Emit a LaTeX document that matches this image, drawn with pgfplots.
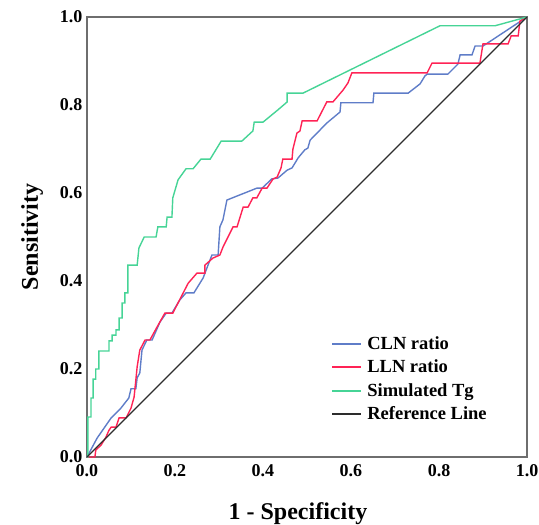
\documentclass[border=0pt]{standalone}
\usepackage{fontspec}
\setmainfont{Liberation Serif}
\usepackage{pgfplots}
\pgfplotsset{compat=1.18}
\definecolor{clnblue}{RGB}{95,125,200}
\definecolor{llnred}{RGB}{255,35,85}
\definecolor{tggreen}{RGB}{70,212,150}
\definecolor{refblack}{RGB}{45,45,45}
\definecolor{framegrey}{RGB}{110,110,110}
\begin{document}
\begin{tikzpicture}
\path[use as bounding box] (-87pt,-68pt) rectangle (452pt,457pt);
\begin{axis}[
  at={(0pt,0pt)}, anchor=south west,
  scale only axis, width=440pt, height=440pt,
  xmin=0, xmax=1, ymin=0, ymax=1,
  xtick={0,0.2,...,1.0}, ytick={0,0.2,...,1.0},
  /pgf/number format/assume math mode=true,
  /pgf/number format/fixed, /pgf/number format/fixed zerofill, /pgf/number format/precision=1,
  major tick length=0pt,
  axis line style={framegrey, line width=1.8pt},
  ticklabel style={font=\bfseries\fontsize{18}{20}\selectfont, text=black},
  xticklabel style={yshift=-4pt},
  yticklabel style={xshift=-1pt},
  xlabel={\bfseries 1 - Specificity},
  ylabel={\bfseries Sensitivity},
  label style={font=\bfseries\fontsize{24}{26}\selectfont},
  xlabel style={yshift=-19pt, xshift=-9pt},
  ylabel style={yshift=10pt},
  legend style={draw=none, fill=none, at={(0.548,0.283)}, anchor=north west,
    font=\bfseries\fontsize{18.5}{20}\selectfont, row sep=5pt, column sep=3pt,
    legend cell align=left},
  legend image code/.code={\draw[#1, line width=2pt] (0pt,0pt) -- (29pt,0pt);},
  clip=false,
]
\addplot[clnblue, line width=1.4pt] coordinates {
(0,0) (.023,.043) (.055,.089) (.077,.111) (.095,.134) (.1,.155) (.111,.155)
(.114,.18) (.120,.191) (.125,.243) (.136,.266) (.148,.266) (.166,.307)
(.180,.327) (.193,.327) (.211,.357) (.225,.373) (.243,.373) (.264,.407)
(.275,.436) (.284,.459) (.298,.459) (.302,.523) (.309,.539) (.318,.584)
(.386,.611) (.398,.611) (.420,.632) (.434,.634) (.455,.652) (.466,.657)
(.480,.680) (.495,.698) (.502,.702) (.507,.720) (.545,.759) (.575,.784)
(.577,.805) (.65,.805) (.652,.827) (.730,.827) (.757,.848) (.768,.866)
(.773,.870) (.820,.870) (.843,.893) (.848,.914) (.875,.914) (.882,.934)
(.9,.934) (1,1)
};
\addlegendentry{CLN ratio}
\addplot[llnred, line width=1.4pt] coordinates {
(0,0) (.018,0) (.020,.016) (.032,.027) (.043,.045) (.05,.061) (.055,.068)
(.066,.068) (.073,.089) (.089,.089) (.1,.111) (.107,.136) (.111,.175)
(.114,.205) (.120,.243) (.132,.266) (.143,.266) (.159,.295) (.177,.327)
(.195,.327) (.230,.395) (.25,.418) (.268,.418) (.268,.436) (.286,.452)
(.302,.459) (.309,.477) (.332,.523) (.341,.523) (.355,.568) (.366,.568)
(.377,.589) (.386,.589) (.398,.611) (.409,.611) (.423,.632) (.432,.636)
(.441,.657) (.445,.677) (.466,.677) (.468,.7) (.477,.736) (.484,.741)
(.489,.764) (.523,.764) (.545,.807) (.559,.807) (.582,.834) (.593,.85)
(.602,.873) (.773,.873) (.784,.895) (.893,.895) (.9,.939) (.957,.939)
(.964,.957) (.980,.957) (.984,.991) (1,1)
};
\addlegendentry{LLN ratio}
\addplot[tggreen, line width=1.4pt] coordinates {
(0,0) (.002,0) (.002,.091) (.009,.091) (.009,.134) (.014,.134) (.014,.177)
(.020,.177) (.020,.2) (.027,.2) (.027,.241) (.05,.241) (.05,.264)
(.057,.264) (.057,.277) (.066,.277) (.066,.289) (.073,.289) (.073,.316)
(.080,.316) (.080,.35) (.086,.35) (.086,.373) (.093,.373) (.093,.436)
(.114,.436) (.118,.475) (.130,.5) (.157,.5) (.161,.523) (.18,.523)
(.182,.545) (.193,.545) (.195,.589) (.207,.63) (.225,.655) (.241,.655)
(.259,.677) (.280,.677) (.305,.718) (.352,.718) (.377,.741) (.380,.761)
(.4,.761) (.434,.789) (.455,.807) (.455,.827) (.491,.827) (.802,.98)
(.927,.98) (1,1)
};
\addlegendentry{Simulated Tg}
\addplot[refblack, line width=1.3pt] coordinates {(0,0) (1,1)};
\addlegendentry{Reference Line}
\end{axis}
\end{tikzpicture}
\end{document}
